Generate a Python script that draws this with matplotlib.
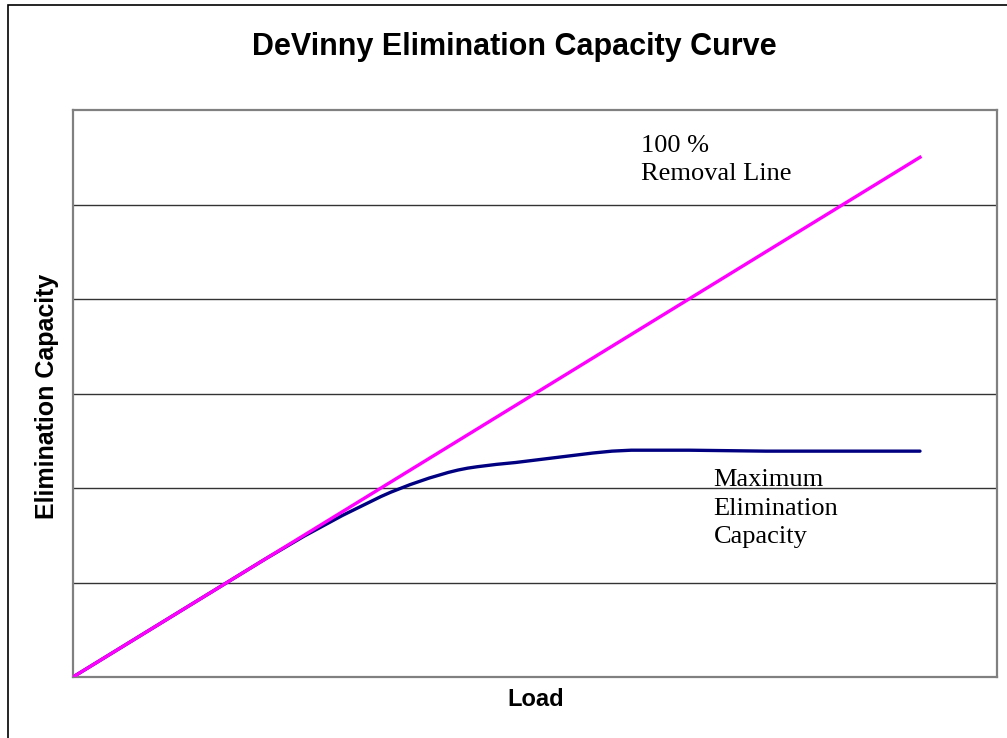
import numpy as np
import matplotlib.pyplot as plt
from matplotlib.patches import Rectangle

# data (arbitrary units, axes run 0..6)
load_removal = [0.0, 5.5]
ec_removal = [0.0, 5.5]

load_max = [0.0, 0.5, 1.0, 1.25, 1.5, 1.625, 1.75, 1.875, 2.0, 2.0625, 2.125, 2.1875,
            2.25, 2.3125, 2.375, 2.4375, 2.5, 2.5625, 2.625, 2.75, 2.875, 3.0, 3.125,
            3.25, 3.375, 3.5, 3.625, 3.75, 4.0, 4.5, 5.0, 5.5]
ec_max = [0.0, 0.5, 1.0, 1.25, 1.49, 1.60, 1.71, 1.81, 1.91, 1.955, 1.995, 2.035,
          2.07, 2.105, 2.135, 2.165, 2.19, 2.21, 2.225, 2.25, 2.27, 2.295, 2.32,
          2.345, 2.37, 2.39, 2.40, 2.40, 2.40, 2.39, 2.39, 2.39]

title = "DeVinny Elimination Capacity Curve"
xlabel = "Load"
ylabel = "Elimination Capacity"

sans = ["Liberation Sans", "DejaVu Sans"]
serif = ["Liberation Serif", "DejaVu Serif"]

fig = plt.figure(figsize=(10.07, 7.38), dpi=100)
fig.patches.append(Rectangle((8 / 1007, -0.1), 1.2, (738 - 5) / 738 + 0.1,
                             transform=fig.transFigure, fill=False,
                             edgecolor="black", linewidth=1.2))

ax = fig.add_axes([73 / 1007, 1 - 677 / 738, (997 - 73) / 1007, (677 - 110) / 738])
ax.set_xlim(0, 6)
ax.set_ylim(0, 6)
ax.set_yticks([1, 2, 3, 4, 5])
ax.set_xticks([])
ax.tick_params(left=False, labelleft=False)
ax.grid(axis="y", color="#333333", linewidth=1.0)
for s in ax.spines.values():
    s.set_color("#808080")
    s.set_linewidth(1.6)

ax.plot(load_removal, ec_removal, color="#FF00FF", linewidth=2.4, zorder=3)
ax.plot(load_max, ec_max, color="#000080", linewidth=2.4, zorder=2,
        solid_capstyle="round", solid_joinstyle="round")

ax.text(3.69, 5.74, "100 %\nRemoval Line", family=serif, fontsize=19,
        va="top", ha="left", linespacing=1.38)
ax.text(4.16, 2.20, "Maximum\nElimination\nCapacity", family=serif, fontsize=19,
        va="top", ha="left", linespacing=1.38)

fig.text(514 / 1007, 1 - 47 / 738, title, family=sans, fontsize=22,
         fontweight="bold", ha="center", va="center")
fig.text(536 / 1007, 1 - 699 / 738, xlabel, family=sans, fontsize=17,
         fontweight="bold", ha="center", va="center")
fig.text(47 / 1007, 1 - 396 / 738, ylabel, family=sans, fontsize=18,
         fontweight="bold", ha="center", va="center", rotation=90)

fig.savefig("out.png", dpi=100)
